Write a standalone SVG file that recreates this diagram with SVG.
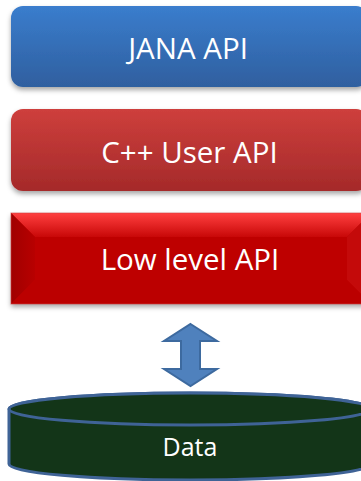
<svg xmlns="http://www.w3.org/2000/svg" width="361" height="481" viewBox="0 0 361 481">
<defs>
<linearGradient id="gBlue" x1="0" y1="0" x2="0" y2="1">
<stop offset="0" stop-color="#3a7dcd"/>
<stop offset="1" stop-color="#2f5f9f"/>
</linearGradient>
<linearGradient id="gRed" x1="0" y1="0" x2="0" y2="1">
<stop offset="0" stop-color="#ce3f3c"/>
<stop offset="1" stop-color="#a52a2a"/>
</linearGradient>
<linearGradient id="gTop" x1="0" y1="0" x2="0" y2="1">
<stop offset="0" stop-color="#ff4040"/>
<stop offset="1" stop-color="#c80808"/>
</linearGradient>
<linearGradient id="gLeft" x1="0" y1="0" x2="1" y2="0">
<stop offset="0" stop-color="#a00000"/>
<stop offset="1" stop-color="#b80000"/>
</linearGradient>
<filter id="sh" x="-10%" y="-20%" width="120%" height="150%">
<feDropShadow dx="0" dy="3" stdDeviation="2.5" flood-color="#000" flood-opacity="0.35"/>
</filter>
</defs>
<style>
.lbl{font-family:"Open Sans","Liberation Sans",sans-serif;fill:#fff;text-anchor:middle}
.big{font-size:29.5px}
</style>
<g id="jana">
<rect x="11" y="6" width="357" height="81" rx="12" fill="url(#gBlue)" filter="url(#sh)"/>
<text class="lbl big" x="188" y="59">JANA API</text>
</g>
<g id="cpp">
<rect x="11" y="109" width="357" height="82" rx="12" fill="url(#gRed)" filter="url(#sh)"/>
<text class="lbl big" x="189.5" y="163">C++ User API</text>
</g>
<g id="lowlevel">
<rect x="11" y="213" width="360" height="91" fill="#be0000" filter="url(#sh)"/>
<polygon points="11,213 371,213 347,237 35,237" fill="url(#gTop)"/>
<polygon points="11,213 35,237 35,280 11,304" fill="url(#gLeft)"/>
<polygon points="371,213 347,237 347,280 371,304" fill="#c40a0a"/>
<polygon points="11,304 35,280 347,280 371,304" fill="#bb0000"/>
<rect x="11" y="213" width="360" height="91" fill="none" stroke="#d04040" stroke-width="1" stroke-opacity="0.6"/>
<text class="lbl big" x="190" y="270">Low level API</text>
</g>
<g id="connectors">
<polygon points="190.5,324 217,341 200,341 200,369 217,369 190.5,386 164,369 181,369 181,341 164,341" fill="#4f81bd" stroke="#3d6a9f" stroke-width="2" stroke-linejoin="miter"/>
</g>
<g id="data">
<path d="M9,409 A181,16 0 0 1 371,409 L371,464 A181,16 0 0 1 9,464 Z" fill="#133518" stroke="#3f6396" stroke-width="3"/>
<ellipse cx="190" cy="409" rx="181" ry="16" fill="#133518" stroke="#3f6396" stroke-width="3"/>
<text class="lbl" x="190" y="456" font-size="25">Data</text>
</g>
</svg>
